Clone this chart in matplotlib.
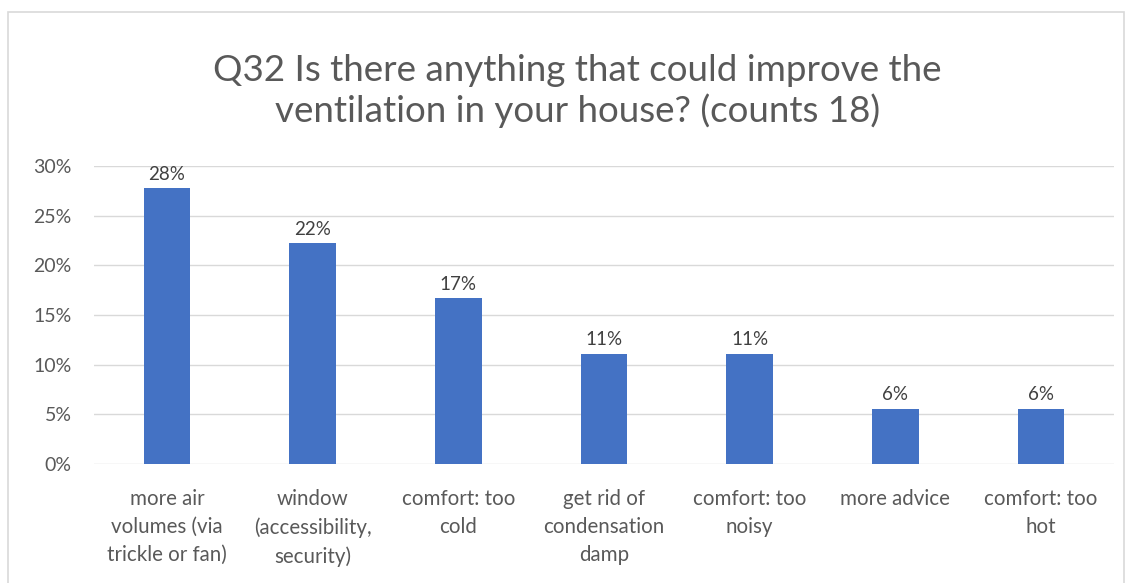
import matplotlib.pyplot as plt
from matplotlib.patches import Rectangle
from matplotlib.ticker import PercentFormatter

categories = ["more air\nvolumes (via\ntrickle or fan)",
              "window\n(accessibility,\nsecurity)",
              "comfort: too\ncold",
              "get rid of\ncondensation\ndamp",
              "comfort: too\nnoisy",
              "more advice",
              "comfort: too\nhot"]
counts = [5, 4, 3, 2, 2, 1, 1]
total = 18
shares = [100 * c / total for c in counts]

plt.rcParams['font.family'] = ['Lato', 'DejaVu Sans']
grey = '#595959'
bar_color = '#4472C4'

fig = plt.figure(figsize=(11.3, 5.83), dpi=100)
# light frame round the chart area
fig.patches.append(Rectangle((8 / 1130, -0.05), 1116 / 1130, 1.05 - 12 / 583,
                             transform=fig.transFigure, fill=False,
                             edgecolor='#D9D9D9', linewidth=1.2))

ax = fig.add_axes([0.0832, 0.204, 0.9026, 0.5113])
x = range(len(categories))
bars = ax.bar(x, shares, width=0.32, color=bar_color, zorder=3)

for b, v in zip(bars, shares):
    ax.text(b.get_x() + b.get_width() / 2, v + 0.55, f"{v:.0f}%",
            ha='center', va='bottom', fontsize=13.5, color='#404040', zorder=4)

ax.set_xlim(-0.5, len(categories) - 0.5)
ax.set_ylim(0, 30)
ax.set_yticks(range(0, 31, 5))
ax.yaxis.set_major_formatter(PercentFormatter(decimals=0))
ax.grid(axis='y', color='#D9D9D9', linewidth=1, zorder=0)
ax.set_xticks(list(x))
ax.set_xticklabels(categories, fontsize=14.8, color=grey, linespacing=1.5)
ax.tick_params(axis='y', labelsize=14, colors=grey, length=0, pad=16)
ax.tick_params(axis='x', length=0, pad=18)
for s in ax.spines.values():
    s.set_visible(False)

fig.text(0.511, 0.844, "Q32 Is there anything that could improve the\n"
         "ventilation in your house? (counts 18)",
         ha='center', va='center', fontsize=26.5, color=grey,
         linespacing=1.22)

fig.savefig('out.png', dpi=100)
